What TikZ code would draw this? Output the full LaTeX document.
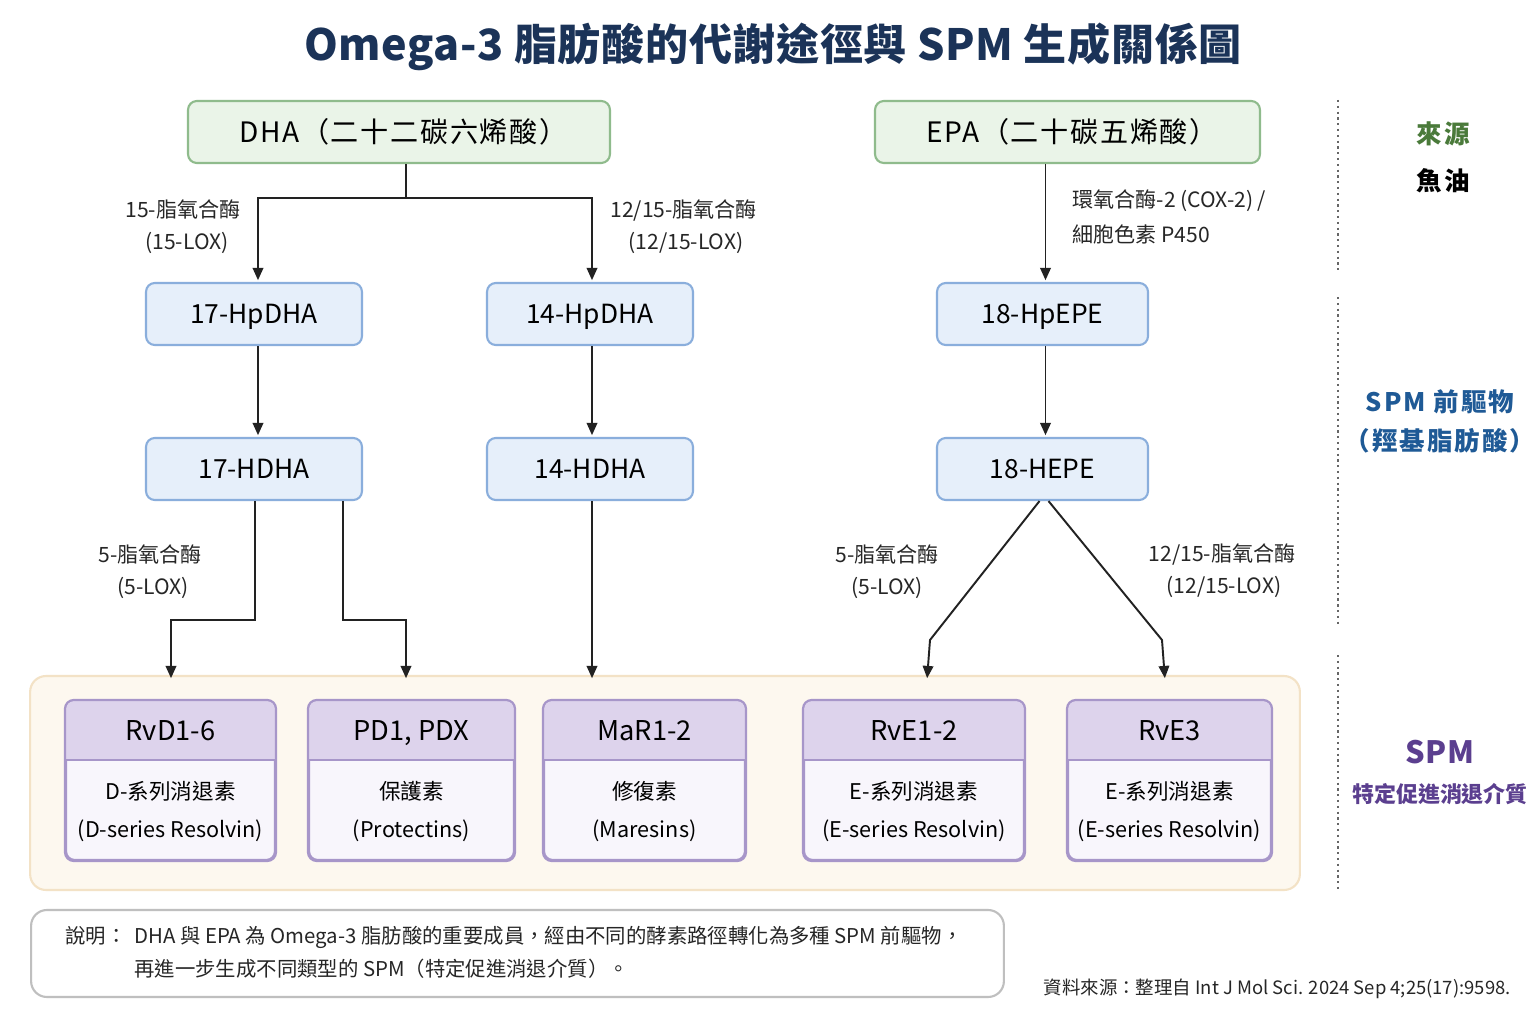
\documentclass[tikz,border=0pt]{standalone}
\usepackage{fontspec}
\setmainfont{Noto Sans CJK TC}
\newfontfamily\spfont[LetterSpace=6]{Noto Sans CJK TC}
\newfontfamily\spfontb[LetterSpace=8]{Noto Sans CJK TC}
\newfontfamily\spfontc[LetterSpace=1.5]{Noto Sans CJK TC}
\usetikzlibrary{arrows.meta,calc}
\definecolor{titlec}{HTML}{1B3358}
\definecolor{grfill}{HTML}{EAF4E8}
\definecolor{grline}{HTML}{8FBB8C}
\definecolor{blfill}{HTML}{E6EFFA}
\definecolor{blline}{HTML}{8AAEDC}
\definecolor{arfill}{HTML}{FDF8EF}
\definecolor{arline}{HTML}{F3E2C6}
\definecolor{hdfill}{HTML}{DDD3EC}
\definecolor{bdfill}{HTML}{F8F6FC}
\definecolor{spline}{HTML}{A796C9}
\definecolor{srcgreen}{HTML}{4A7A3A}
\definecolor{preblue}{HTML}{1F5A96}
\definecolor{spmpurple}{HTML}{5B3F8F}
\definecolor{linec}{HTML}{222222}
\tikzset{
  ctext/.style={text height=#1, text depth=0pt},
  srcbox/.style={draw=grline, fill=grfill, line width=1.2pt, rounded corners=5pt, ctext=11.7pt,
    minimum width=#1, minimum height=1.24cm, font=\spfont\fontsize{16}{18}\selectfont, inner sep=0pt},
  midbox/.style={draw=blline, fill=blfill, line width=1.2pt, rounded corners=5pt, ctext=10.95pt,
    minimum width=#1, minimum height=1.24cm, font=\fontsize{15}{18}\selectfont, inner sep=0pt},
  spmbox/.style={draw=spline, fill=bdfill, line width=1.2pt, rounded corners=5pt,
    minimum width=#1, minimum height=3.18cm, inner sep=0pt},
  arr/.style={draw=linec, line width=1.1pt, -{Triangle[length=7pt,width=6pt]}, shorten >=1pt},
  enz/.style={font=\fontsize{12}{14}\selectfont, inner sep=0pt, text=black!85, ctext=8.8pt},
  sidelbl/.style={font=\spfontb\bfseries\fontsize{14.5}{17}\selectfont, inner sep=0pt, ctext=10.6pt},
  sep/.style={draw=black!60, line width=1.3pt, dotted},
  notetxt/.style={font=\fontsize{11.6}{14}\selectfont, anchor=west, inner sep=0pt, text=black!85, ctext=8.5pt}
}
\newcommand{\spmnode}[7]{%
  \node[spmbox=#4] (#1) at (#2,#3) {};
  \fill[hdfill] ($(#1.north west)+(0.6pt,60)$) -- ([yshift=-5pt]$(#1.north west)+(0.6pt,0)$)
     arc[start angle=180,end angle=90,radius=4.4pt] -- ([xshift=-5pt]$(#1.north east)+(0,-0.6pt)$)
     arc[start angle=90,end angle=0,radius=4.4pt] -- ($(#1.north east)+(-0.6pt,60)$) -- cycle;
  \draw[spline, line width=1.2pt] ($(#1.north west)+(0,60)$) -- ($(#1.north east)+(0,60)$);
  \draw[spline, line width=1.2pt, rounded corners=5pt] (#1.north west) rectangle (#1.south east);
  \node[font=\fontsize{15.5}{18}\selectfont, inner sep=0pt, ctext=11.3pt] (#1h) at ($(#1.north)+(0,31)$) {#5};
  \node[font=\fontsize{12.3}{15}\selectfont, inner sep=0pt, ctext=9pt] (#1a) at ($(#1.north)+(0,92)$) {#6};
  \node[font=\fontsize{12.3}{15}\selectfont, inner sep=0pt, ctext=9pt] (#1b) at ($(#1.north)+(0,130)$) {#7};
}
\begin{document}
\begin{tikzpicture}[x=0.02cm,y=-0.02cm]
\useasboundingbox[fill=white] (0,0) rectangle (1536,1024);
% title
\node[font=\spfontc\bfseries\fontsize{24.5}{30}\selectfont, text=titlec, inner sep=0pt, ctext=17.9pt] (title) at (773,45)
  {Omega-3 脂肪酸的代謝途徑與 SPM 生成關係圖};
% source boxes
\node[srcbox=8.44cm] (dha) at (399,132) {\kern5pt DHA（二十二碳六烯酸）};
\node[srcbox=7.7cm] (epa) at (1067.5,132) {\kern5pt EPA（二十碳五烯酸）};
% precursor boxes
\node[midbox=4.32cm] (hp17) at (254,314) {17-HpDHA};
\node[midbox=4.12cm] (hp14) at (590,314) {14-HpDHA};
\node[midbox=4.22cm] (hpepe) at (1042.5,314) {18-HpEPE};
\node[midbox=4.32cm] (h17) at (254,469) {17-HDHA};
\node[midbox=4.12cm] (h14) at (590,469) {14-HDHA};
\node[midbox=4.22cm] (hepe) at (1042.5,469) {18-HEPE};
% SPM area
\node[draw=arline, fill=arfill, line width=1.2pt, rounded corners=9pt, minimum width=25.4cm,
  minimum height=4.28cm, inner sep=0pt] (area) at (665,783) {};
\spmnode{rvd}{170.5}{780.5}{4.18cm}{RvD1-6}{D-系列消退素}{(D-series Resolvin)}
\spmnode{pd}{411.5}{780.5}{4.1cm}{PD1, PDX}{保護素}{(Protectins)}
\spmnode{mar}{644.5}{780.5}{4.02cm}{MaR1-2}{修復素}{(Maresins)}
\spmnode{rve}{914}{780.5}{4.4cm}{RvE1-2}{E-系列消退素}{(E-series Resolvin)}
\spmnode{rve3}{1169.5}{780.5}{4.06cm}{RvE3}{E-系列消退素}{(E-series Resolvin)}
% connectors DHA
\draw[arr] ($(dha.south)+(7,0)$) -- ++(0,34) -| ($(hp17.north)+(4,0)$);
\draw[arr] ($(dha.south)+(7,0)$) -- ++(0,34) -| ($(hp14.north)+(2,0)$);
\draw[arr] ($(hp17.south)+(4,0)$) -- ($(h17.north)+(4,0)$);
\draw[arr] ($(hp14.south)+(2,0)$) -- ($(h14.north)+(2,0)$);
\draw[arr] ($(epa.south)+(-22,0)$) -- ($(hpepe.north)+(3,0)$);
\draw[arr] ($(hpepe.south)+(3,0)$) -- ($(hepe.north)+(3,0)$);
\draw[arr] ($(h17.south)+(1,0)$) -- ++(0,119) -| ($(rvd.north |- area.north)+(0.5,5)$);
\draw[arr] ($(h17.south)+(89,0)$) -- ++(0,119) -| ($(pd.north |- area.north)+(-5.5,5)$);
\draw[arr] ($(h14.south)+(2,0)$) -- ($(h14.south |- area.north)+(2,5)$);
\coordinate (k1) at (930,640);
\coordinate (k2) at (1162,640);
\draw[arr] ($(hepe.south)+(-3,0)$) -- (k1) -- ($(rve.north |- area.north)+(13,5)$);
\draw[arr] ($(hepe.south)+(6,0)$) -- (k2) -- ($(rve3.north |- area.north)+(-4.5,5)$);
% enzyme labels
\node[enz, anchor=east] (l1a) at (241,210) {15-脂氧合酶};
\node[enz] (l1b) at (187,242) {(15-LOX)};
\node[enz, anchor=west] (l2a) at (610,210) {12/15-脂氧合酶};
\node[enz] (l2b) at (686,242) {(12/15-LOX)};
\node[enz, anchor=west] (l3a) at (1072,200) {環氧合酶-2 (COX-2) /};
\node[enz, anchor=west] (l3b) at (1072,235) {細胞色素 P450};
\node[enz] (l4a) at (150,555) {5-脂氧合酶};
\node[enz] (l4b) at (153,587) {(5-LOX)};
\node[enz] (l5a) at (887,555) {5-脂氧合酶};
\node[enz] (l5b) at (887,587) {(5-LOX)};
\node[enz] (l6a) at (1222,554) {12/15-脂氧合酶};
\node[enz] (l6b) at (1224,586) {(12/15-LOX)};
% right column
\draw[sep] (1338,100) -- (1338,270);
\draw[sep] (1338,297) -- (1338,627);
\draw[sep] (1338,655) -- (1338,890);
\node[sidelbl, text=srcgreen] (s1) at (1443,134) {來源};
\node[sidelbl, text=black] (s2) at (1443,181) {魚油};
\node[sidelbl, text=preblue] (p1) at (1440,402) {SPM 前驅物};
\node[sidelbl, text=preblue] (p2) at (1440,441) {（羥基脂肪酸）};
\node[font=\spfontc\bfseries\fontsize{17.5}{20}\selectfont, text=spmpurple, inner sep=0pt, ctext=12.8pt] (m1) at (1440,752) {SPM};
\node[font=\bfseries\fontsize{12.5}{15}\selectfont, text=spmpurple, inner sep=0pt, ctext=9.1pt] (m2) at (1440,795) {特定促進消退介質};
% note
\node[draw=black!25, fill=white, line width=1.2pt, rounded corners=9pt, minimum width=19.46cm,
  minimum height=1.74cm, inner sep=0pt] (note) at (517.5,953.5) {};
\node[notetxt] (n0) at (65,936) {說明：};
\node[notetxt] (n1) at (134,936)
  {DHA 與 EPA 為 Omega-3 脂肪酸的重要成員，經由不同的酵素路徑轉化為多種 SPM 前驅物，};
\node[notetxt] (n2) at (134,969)
  {再進一步生成不同類型的 SPM（特定促進消退介質）。};
\node[font=\fontsize{10.5}{12}\selectfont, anchor=east, inner sep=0pt, text=black!85, ctext=7.7pt] (src) at (1511,988)
  {資料來源：整理自 Int J Mol Sci. 2024 Sep 4;25(17):9598.};
\end{tikzpicture}
\end{document}
